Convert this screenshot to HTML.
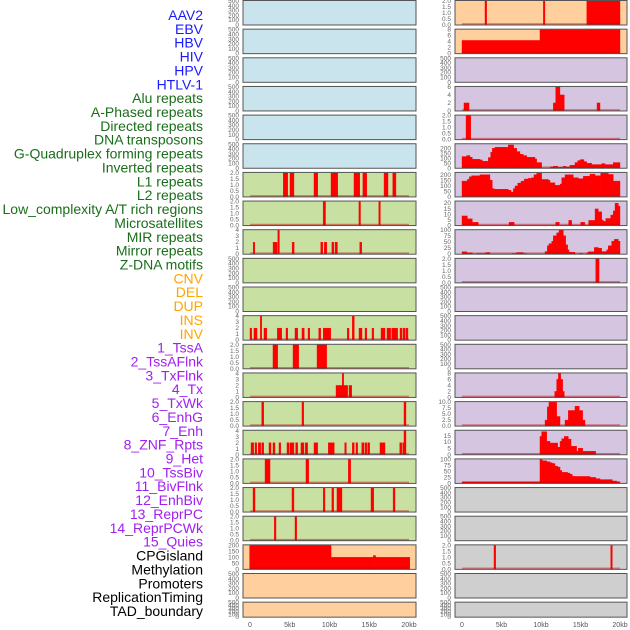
<!DOCTYPE html>
<html><head><meta charset="utf-8"><style>
body{margin:0;background:#fff;}
svg{display:block;font-family:"Liberation Sans",sans-serif;}
</style></head><body>
<svg id="chart" width="630" height="630" viewBox="0 0 630 630" xmlns="http://www.w3.org/2000/svg"></svg>
<script>
// ---- labels ----
const labels = ["AAV2","EBV","HBV","HIV","HPV","HTLV-1","Alu repeats","A-Phased repeats","Directed repeats","DNA transposons","G-Quadruplex forming repeats","Inverted repeats","L1 repeats","L2 repeats","Low_complexity A/T rich regions","Microsatellites","MIR repeats","Mirror repeats","Z-DNA motifs","CNV","DEL","DUP","INS","INV","1_TssA","2_TssAFlnk","3_TxFlnk","4_Tx","5_TxWk","6_EnhG","7_Enh","8_ZNF_Rpts","9_Het","10_TssBiv","11_BivFlnk","12_EnhBiv","13_ReprPC","14_ReprPCWk","15_Quies","CPGisland","Methylation","Promoters","ReplicationTiming","TAD_boundary"];
const labelGroups = [6,13,5,15,5];
const groupColors = ["#1a1aff","#1a6e1a","#ffa500","#a020f0","#000000"];
const xTicks = [0,5,10,15,20];
const xTickLabels = ["0","5kb","10kb","15kb","20kb"];

// ---- left column bars [startKb,endKb,value] ----
const L6_bars=[[4.19,4.74,2],[5.03,5.53,2],[8.05,8.52,2],[10.19,11.03,2],[13.08,13.8,2],[14.2,14.68,2],[16.86,17.36,2],[17.95,18.36,2]];
const L7_bars=[[9.2,9.5,2],[13.7,13.9,2],[16.2,16.4,2]];
const L8_bars=[[0.4,0.6,2],[2.9,3.4,2],[3.5,3.7,4],[5.3,5.55,2],[8.9,9.15,2],[9.35,9.65,2],[10.3,10.55,2],[10.7,11.0,2],[13.8,14.05,2]];
const L11_bars=[[0,0.21,2],[0.5,0.88,2],[1.3,1.47,4],[1.76,2.1,2],[3.44,3.98,2],[4.53,4.74,2],[5.66,6.0,2],[6.54,6.83,2],[7.3,7.51,2],[8.64,8.89,2],[9.22,10.15,2],[12.24,12.45,2],[12.87,13.12,4],[13.71,14.09,2],[14.47,14.68,2],[15.35,15.56,2],[16.48,16.98,2],[17.23,17.69,2],[17.82,18.57,2],[18.87,19.12,2],[19.25,19.5,2],[19.62,19.87,2]];
const L12_bars=[[2.89,3.48,2],[5.41,6.12,2],[8.43,9.64,2]];
const L13_bars=[[10.82,12.28,2],[11.6,11.78,4],[12.45,12.79,2]];
const L14_bars=[[1.47,1.72,2],[6.54,6.75,2],[19.37,19.62,2]];
const L15_bars=[[0.13,0.46,2],[0.63,0.84,2],[1.05,1.34,2],[1.47,1.72,2],[2.39,2.64,2],[2.89,3.14,2],[3.65,3.86,2],[4.65,4.91,2],[5.03,5.53,2],[5.74,6.0,2],[6.41,6.79,2],[6.96,7.25,2],[8.05,8.51,2],[9.85,10.6,2],[11.91,12.12,2],[12.87,13.12,2],[13.33,13.54,2],[14.05,14.34,2],[14.47,14.68,2],[14.8,15.05,2],[16.35,16.98,2],[18.83,19.08,2],[19.2,19.5,2],[19.37,19.62,4]];
const L16_bars=[[1.89,2.52,2],[7.04,7.38,2],[12.37,12.66,2]];
const L17_bars=[[0.38,0.63,2],[5.28,5.53,2],[9.22,9.43,2],[10.3,10.52,2],[10.94,11.57,2],[15.22,15.56,2],[18.0,18.24,2]];
const L18_bars=[[3.06,3.27,2],[5.66,5.87,2]];
const L19_bars=[[-0.05,10.2,200],[10.2,15.5,100],[15.5,15.8,115],[15.8,20.1,100]];

// ---- right column bars ----
const R0_bars=[[2.91,3.12,2],[10.3,10.5,2],[15.8,20.0,2]];
const R1_bars=[[0,9.87,4.4],[9.87,20,8]];
const R3_bars=[[0.25,0.89,2],[11.56,11.86,2],[11.86,12.4,6],[12.4,12.95,4],[17.09,17.47,2]];
const R4_bars=[[0.51,1.1,2]];
const R9_bars=[[16.93,17.35,2]];
const R13_bars=[[11.73,11.98,2],[11.98,12.2,6],[12.2,12.49,8],[12.49,12.74,6],[12.74,12.95,2]];
const R14_bars=[[10.51,10.8,2.5],[10.8,11.01,8],[11.01,11.98,10],[11.98,12.41,4],[13.04,13.46,2.5],[13.46,14.3,6.5],[14.3,14.85,8.3],[14.85,15.27,6.5],[15.27,15.57,2.5]];
const R19_bars=[[4.05,4.26,2],[18.82,19.03,2]];

// ---- right column step profiles (breaks in kb, values per step) ----
const R5_breaks=[0,0.59,1.01,1.31,2.28,2.57,3.33,3.63,3.84,4.18,5.86,6.54,6.92,7.34,7.76,8.19,9.24,9.45,10.08,11.14,11.56,12.11,12.83,13.12,13.67,14.3,14.64,14.98,15.44,15.78,16.41,17.68,18.1,19.15,20];
const R5_values=[117,127,110,90,83,70,107,160,200,210,233,200,167,140,127,110,93,57,0,13,20,10,20,13,30,57,77,87,67,50,37,47,37,57];
const R6_breaks=[0,0.68,0.93,1.22,2.28,3.54,3.84,4.09,5.86,6.2,6.5,6.71,7.05,7.47,7.89,8.4,8.82,9.11,9.45,10.08,10.93,11.14,11.77,12.41,12.62,13.04,14.09,14.72,15.36,16.2,16.84,17.55,18.52,19.15,20];
const R6_values=[145,160,185,194,203,152,76,70,61,45,76,100,127,145,164,170,176,203,218,160,152,130,106,118,176,203,176,167,190,209,194,218,206,145];
const R7_breaks=[0,0.68,1.31,2.07,5.95,6.62,11.86,12.32,13.5,13.88,15.02,15.53,16.03,16.84,17.26,17.68,17.89,18.19,18.82,19.15,19.37,19.79,20];
const R7_values=[8.6,6,2.9,0,2.9,0,2.9,0,4.6,0,2.9,0,4.6,14.9,12.3,5,3.7,6.3,9.4,13.1,20,17.4];
const R8_breaks=[0,0.59,1.31,1.86,3.0,3.54,6.37,6.92,7.76,8.19,10.51,10.8,11.01,11.35,11.56,11.98,12.28,12.83,13.12,13.37,13.54,14.3,14.81,15.27,15.78,15.99,16.75,17.26,17.68,18.31,18.52,18.94,19.28,19.79,20];
const R8_values=[10,6,0,3,7,0,3,7,3,0,11,35,44,54,77,89,100,77,39,18,8,0,3,0,6,10,28,25,11,18,35,54,62,54];
const R15_breaks=[9.87,10.08,10.72,11.14,12.11,12.41,12.62,12.95,13.46,13.8,14.51,14.72,15.27,16.92];
const R15_values=[14.5,18.3,10.6,9.3,6,10.6,12.7,14.5,12.4,6.7,2.8,5.2,2.8];
const R16_breaks=[0,9.87,10.17,10.72,11.14,11.43,11.77,12.11,12.41,12.62,13.37,13.67,13.96,14.22,16.2,16.92,17.47,19.03,19.58,20];
const R16_values=[7,100,94,90,86,83,72,68,54,46,43,38,30,29,25,20,16,10,7];

// ---- tick sets ----
const ticksBlank=[0,100,200,300,400,500];
const ticks2=[0,0.5,1,1.5,2];
const ticks4=[0,1,2,3,4];
const ticks200=[0,50,100,150,200];
const ticks8=[0,2,4,6,8];
const ticks6=[0,2,4,6];
const ticks20=[0,5,10,15,20];
const ticks100=[0,25,50,75,100];
const ticks10=[0,2.5,5,7.5,10];
const ticks15=[0,5,10,15];

const svg=document.getElementById('chart');
const NS='http://www.w3.org/2000/svg';
function mk(tag,attrs){const e=document.createElementNS(NS,tag);for(const k in attrs)e.setAttribute(k,attrs[k]);svg.appendChild(e);return e;}

// labels
let li=0;
labelGroups.forEach((n,g)=>{for(let j=0;j<n;j++){
  const t=mk('text',{x:203,y:15+li*13.86+5,'text-anchor':'end','font-size':'14',fill:groupColors[g]});
  t.textContent=labels[li];
  
  
  li++;}});

const cols={L:{x0:243,x1:416,k0:250,k20:409,tx:239},R:{x0:455,x1:627,k0:462,k20:620,tx:451}};
function rowTop(i){return 0.5+i*28.65;}
function rowH(i){return i===21?15:24.5;}
function xs(c,kb){return c.k0+(c.k20-c.k0)*kb/20;}

const colors={blue:'#c9e4ec',green:'#c8e0a2',orange:'#ffd09e',purple:'#d5c5e1',gray:'#cfcfcf'};
function bgFor(col,i){
  if(col==='L'){return i<6?colors.blue:(i<19?colors.green:colors.orange);}
  return i<2?colors.orange:(i<17?colors.purple:colors.gray);
}
const panels={
 L6:[L6_bars,2,ticks2,1],L7:[L7_bars,2,ticks2,1],L8:[L8_bars,4,ticks4,0],
 L11:[L11_bars,4,ticks4,0],L12:[L12_bars,2,ticks2,1],L13:[L13_bars,4,ticks4,0],
 L14:[L14_bars,2,ticks2,1],L15:[L15_bars,4,ticks4,0],L16:[L16_bars,2,ticks2,1],
 L17:[L17_bars,2,ticks2,1],L18:[L18_bars,2,ticks2,1],L19:[L19_bars,200,ticks200,0],
 R0:[R0_bars,2,ticks2,1],R1:[R1_bars,8,ticks8,0],R3:[R3_bars,6,ticks6,0],R4:[R4_bars,2,ticks2,1],
 R9:[R9_bars,2,ticks2,1],R13:[R13_bars,8,ticks8,0],R14:[R14_bars,10,ticks10,1],R19:[R19_bars,2,ticks2,1]
};
function steps(b,v){const out=[];for(let i=0;i<v.length;i++)out.push([b[i],b[i+1],v[i]]);return out;}
panels.R5=[steps(R5_breaks,R5_values),240,ticks200,0];
panels.R6=[steps(R6_breaks,R6_values),220,ticks200,0];
panels.R7=[steps(R7_breaks,R7_values),21.5,ticks20,0];
panels.R8=[steps(R8_breaks,R8_values),100,ticks100,0];
panels.R15=[steps(R15_breaks,R15_values),19,ticks15,0];
panels.R16=[steps(R16_breaks,R16_values),100,ticks100,0];

['L','R'].forEach(col=>{
  const c=cols[col];
  for(let i=0;i<22;i++){
    const top=rowTop(i),h=rowH(i),bot=top+h;
    const key=col+i;
    const p=panels[key];
    const ymax=p?p[1]:500, ticks=p?p[2]:ticksBlank, dec=p?p[3]:0;
    const r=mk('rect',{x:c.x0,y:top,width:c.x1-c.x0,height:h,fill:bgFor(col,i)});
    
    
    const ys=v=>bot-(h-0.5)*v/ymax;
    ticks.forEach(tv=>{
      const t=mk('text',{x:c.tx,y:ys(tv)+2,'text-anchor':'end','font-size':'6.5',fill:'#666'});
      t.textContent=dec?tv.toFixed(1):String(tv);
      
      
    });
    if(p){
      p[0].forEach(b=>{
        if(b[2]<=0)return;
        const x1=xs(c,b[0]),x2=xs(c,b[1]);
        const y=ys(b[2]);
        const br=mk('rect',{x:x1,y:y,width:Math.max(1.2,x2-x1),height:bot-y,fill:'#ff0000',stroke:'#ff0000','stroke-width':'0.4'});
        
        
      });
      const bl=mk('rect',{x:xs(c,0),y:bot-1.8,width:xs(c,20)-xs(c,0),height:1.8,fill:'rgba(200,0,0,0.45)'});
      
      
    }
    const fr=mk('rect',{x:c.x0,y:top,width:c.x1-c.x0,height:h,fill:'none',stroke:'#555','stroke-width':'1'});
    
    
  }
  xTicks.forEach((kb,j)=>{
    const t=mk('text',{x:xs(c,kb),y:627,'text-anchor':'middle','font-size':'7',fill:'#555'});
    t.textContent=xTickLabels[j];
    
    
  });
});
</script>
</body></html>
